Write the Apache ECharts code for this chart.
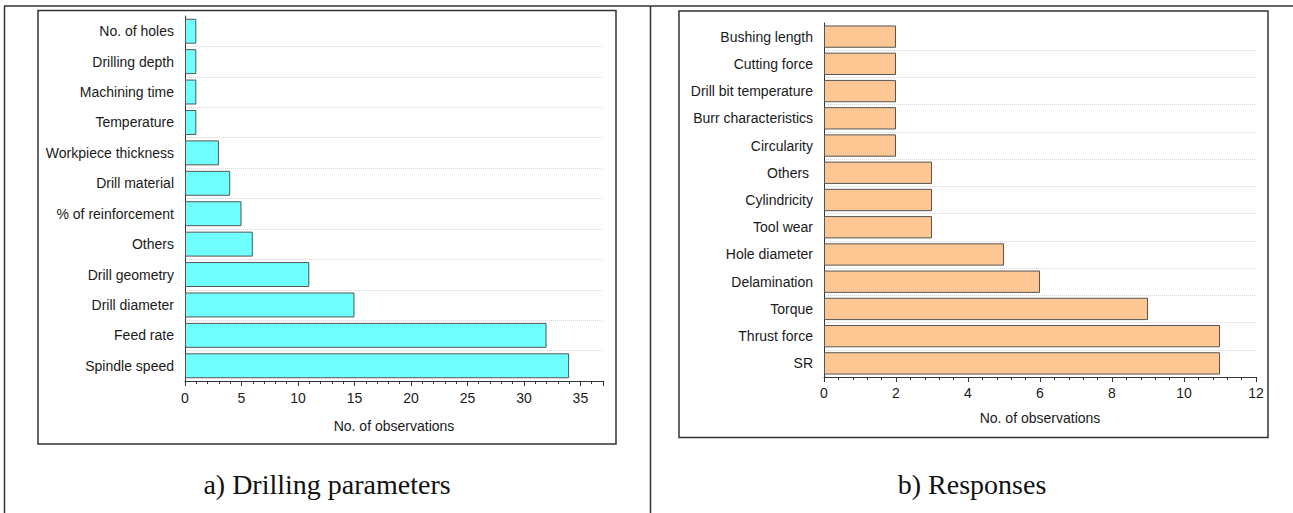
<!DOCTYPE html>
<html>
<head>
<meta charset="utf-8">
<script src="https://cdn.jsdelivr.net/npm/echarts@6/dist/echarts.min.js"></script>
<style>
  html, body { margin: 0; padding: 0; background: #fff; }
  #main { width: 1293px; height: 513px; }
</style>
</head>
<body>
<div id="main"></div>
<script>
// a) drilling parameters, listed top to bottom
const paramNames = ['No. of holes', 'Drilling depth', 'Machining time', 'Temperature',
  'Workpiece thickness', 'Drill material', '% of reinforcement', 'Others',
  'Drill geometry', 'Drill diameter', 'Feed rate', 'Spindle speed'];
const paramCounts = [1, 1, 1, 1, 3, 4, 5, 6, 11, 15, 32, 34];

// b) responses, listed top to bottom
const respNames = ['Bushing length', 'Cutting force', 'Drill bit temperature',
  'Burr characteristics', 'Circularity', 'Others ', 'Cylindricity', 'Tool wear',
  'Hole diameter', 'Delamination', 'Torque', 'Thrust force', 'SR'];
const respCounts = [2, 2, 2, 2, 2, 3, 3, 3, 5, 6, 9, 11, 11];

const captions = ['a) Drilling parameters', 'b) Responses'];
const xTitle = 'No. of observations';

const chart = echarts.init(document.getElementById('main'), null, { renderer: 'svg' });

const txt = { color: '#1a1a1a', fontFamily: 'Liberation Sans, Arial, sans-serif', fontSize: 14 };

function catAxes(names, grid) {
  return [{
    // labels + ticks at the label centres
    type: 'category', gridIndex: grid, data: names, inverse: true, position: 'left',
    axisLine: { lineStyle: { color: '#333', width: 1 } },
    axisTick: { alignWithLabel: true, length: 6, lineStyle: { color: '#333' } },
    axisLabel: Object.assign({ margin: 11 }, txt),
    splitLine: { show: false }
  }, {
    // small boundary ticks and dotted grid lines
    type: 'category', gridIndex: grid, data: names, inverse: true, position: 'left',
    axisLine: { show: false },
    axisTick: { length: 3, lineStyle: { color: '#333' } },
    axisLabel: { show: false },
    splitLine: { show: true, showMinLine: false, showMaxLine: false,
      lineStyle: { color: '#d4d4d4', type: 'dotted' } }
  }];
}

function valAxis(grid, max, interval, margin, gap, fmt) {
  return {
    type: 'value', gridIndex: grid, min: 0, max: max, interval: interval,
    name: xTitle, nameLocation: 'middle', nameGap: gap,
    nameTextStyle: txt,
    axisLine: { show: true, lineStyle: { color: '#333', width: 1 } },
    axisTick: { show: true, length: 5, lineStyle: { color: '#333' } },
    minorTick: { show: true, splitNumber: 5, length: 3, lineStyle: { color: '#333' } },
    axisLabel: Object.assign({ margin: margin, formatter: fmt }, txt),
    splitLine: { show: false }
  };
}

const border = { stroke: '#333', lineWidth: 1.5 };
const capFont = '28px "Liberation Serif", "Times New Roman", serif';

chart.setOption({
  animation: false,
  backgroundColor: '#fff',
  grid: [
    { left: 185, top: 16, width: 418, height: 365 },
    { left: 824, top: 23, width: 432, height: 354 }
  ],
  xAxis: [
    valAxis(0, 37, 5, 10, 38, v => (v % 5 === 0 ? v : '')),
    valAxis(1, 12, 2, 9, 34, v => v)
  ],
  yAxis: catAxes(paramNames, 0).concat(catAxes(respNames, 1)),
  series: [{
    type: 'bar', xAxisIndex: 0, yAxisIndex: 0, data: paramCounts,
    barCategoryGap: '18%',
    itemStyle: { color: '#70FFFF', borderColor: '#555', borderWidth: 1 }
  }, {
    type: 'bar', xAxisIndex: 1, yAxisIndex: 2, data: respCounts,
    barCategoryGap: '18%',
    itemStyle: { color: '#FDC794', borderColor: '#555', borderWidth: 1 }
  }],
  graphic: [
    // table lines
    { type: 'line', shape: { x1: 4, y1: 6, x2: 1293, y2: 6 }, style: border },
    { type: 'line', shape: { x1: 4.5, y1: 6, x2: 4.5, y2: 513 }, style: border },
    { type: 'line', shape: { x1: 650.5, y1: 6, x2: 650.5, y2: 513 }, style: border },
    // chart frames
    { type: 'rect', shape: { x: 38, y: 10.5, width: 578, height: 433.5 },
      style: { fill: 'none', stroke: '#333', lineWidth: 1.5 }, z: -1 },
    { type: 'rect', shape: { x: 679, y: 11, width: 589, height: 426.5 },
      style: { fill: 'none', stroke: '#333', lineWidth: 1.5 }, z: -1 },
    // captions
    { type: 'text', x: 327, y: 484, style: { text: captions[0], fill: '#111',
      font: capFont, textAlign: 'center', textVerticalAlign: 'middle' } },
    { type: 'text', x: 972, y: 484, style: { text: captions[1], fill: '#111',
      font: capFont, textAlign: 'center', textVerticalAlign: 'middle' } }
  ]
});
</script>
</body>
</html>
